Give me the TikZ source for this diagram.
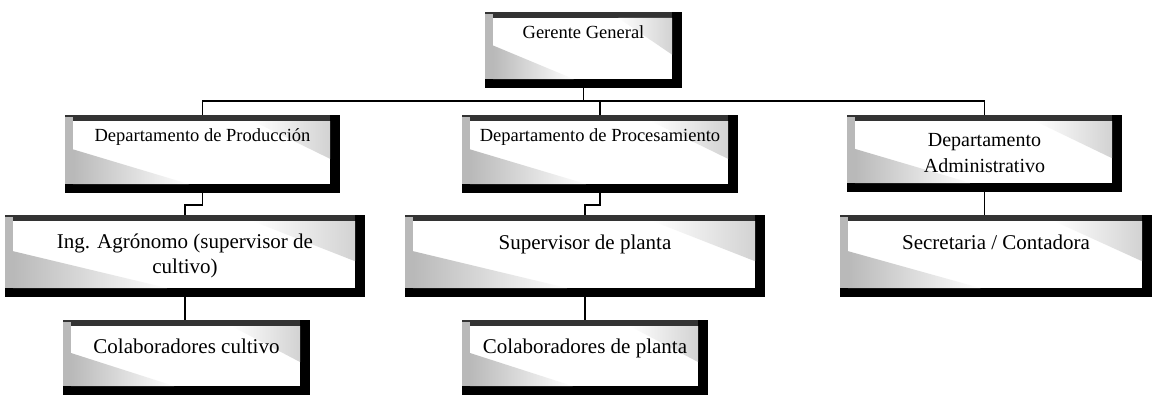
\documentclass[tikz,border=0pt]{standalone}
\usepackage{fontspec}
\setmainfont{Liberation Serif}
\usetikzlibrary{calc}
\tikzset{
  orgbox/.style={rectangle, fill=black, inner sep=0pt, align=center,
    path picture={
      \coordinate (o1) at (path picture bounding box.north west);
      \coordinate (o2) at (path picture bounding box.south east);
      \coordinate (i1) at ([xshift=8pt,yshift=-6pt]o1);
      \coordinate (i2) at ([xshift=-10pt,yshift=9pt]o2);
      \coordinate (i3) at (i1|-i2);
      \coordinate (i4) at (i2|-i1);
      \fill[black!80] (o1) rectangle (i4);
      \fill[white] (i1) rectangle (i2);
      \shade[left color=gray!55, right color=white] (i3) -- ($(i3)!0.45!(i2)$) -- ($(i3)!0.55!(i1)$) -- cycle;
      \shade[left color=white, right color=gray!35] (i4) -- ($(i4)!0.3!(i1)$) -- ($(i4)!0.6!(i2)$) -- cycle;
      \fill[gray!55] ([yshift=-2pt]o1) rectangle (i3);
    }},
  topfont/.style={font=\fontsize{18.5}{22}\selectfont},
  lowfont/.style={font=\fontsize{21}{24.5}\selectfont},
  admfont/.style={font=\fontsize{20}{26}\selectfont},
  conn/.style={line width=1.6pt, draw=black},
}
\begin{document}
\begin{tikzpicture}[x=1pt,y=-1pt]
\useasboundingbox (0,0) rectangle (1156,396);
% top
\node[orgbox, topfont, minimum width=197pt, minimum height=76pt, text height=13pt, text depth=35pt] (gg) at (583.5,50) {Gerente General};
% departments
\node[orgbox, topfont, minimum width=275pt, minimum height=78pt, text height=13pt, text depth=39pt] (prod) at (202.5,154) {Departamento de Producción};
\node[orgbox, topfont, minimum width=276pt, minimum height=78pt, text height=13pt, text depth=39pt] (proc) at (600,154) {Departamento de Procesamiento};
\node[orgbox, admfont, minimum width=275pt, minimum height=77pt] (adm) at (984.5,153.5) {Departamento\\Administrativo};
% second level
\node[orgbox, lowfont, minimum width=360pt, minimum height=82pt] (ing) at (185,256) {Ing. Agrónomo (supervisor de\\cultivo)};
\node[orgbox, lowfont, minimum width=360pt, minimum height=82pt, text height=15pt, text depth=29pt] (sup) at (585,256) {Supervisor de planta};
\node[orgbox, lowfont, minimum width=312pt, minimum height=82pt, text height=15pt, text depth=29pt] (sec) at (996,256) {Secretaria / Contadora};
% third level
\node[orgbox, lowfont, minimum width=247pt, minimum height=75pt, text height=15pt, text depth=24pt] (colc) at (186.5,357.5) {Colaboradores cultivo};
\node[orgbox, lowfont, minimum width=246pt, minimum height=75pt, text height=15pt, text depth=24pt] (colp) at (585,357.5) {Colaboradores de planta};
% connectors
\coordinate (bus) at (0,101);
\draw[conn] (gg.south) -- (gg.south |- bus);
\draw[conn] (prod.north) -- (prod.north |- bus) -| (adm.north);
\draw[conn] (proc.north) -- (proc.north |- bus);
\draw[conn] (prod.south) -- ++(0,12) -| (ing.north);
\draw[conn] (proc.south) -- ++(0,12) -| (sup.north);
\draw[conn] (adm.south) -- (adm.south |- sec.north);
\draw[conn] (ing.south) -- (ing.south |- colc.north);
\draw[conn] (sup.south) -- (colp.north);
\end{tikzpicture}
\end{document}
